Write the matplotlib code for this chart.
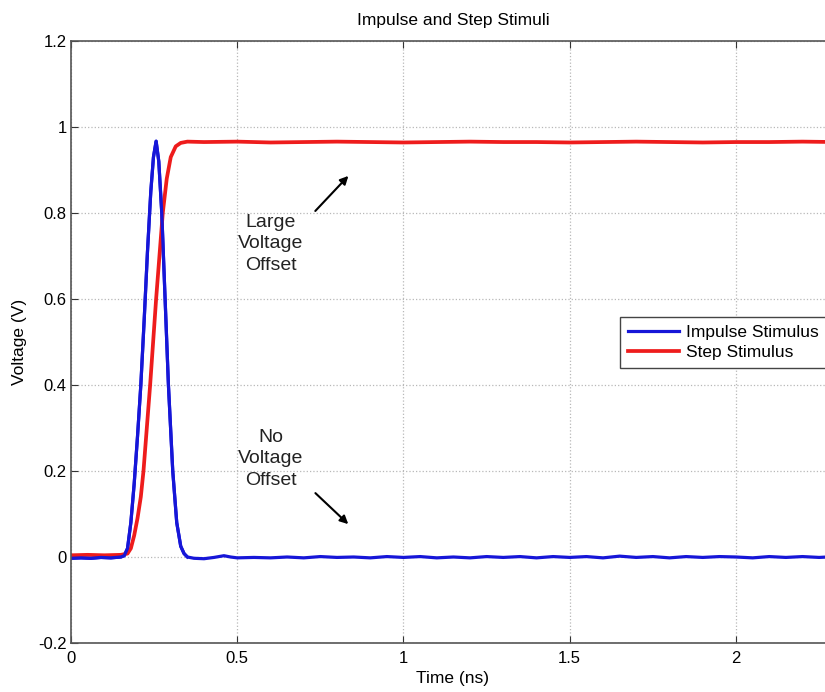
import matplotlib
matplotlib.use('Agg')
import matplotlib.pyplot as plt

# Dados (tempo em ns, tensão em V)
imp_t = [0.00, 0.03, 0.06, 0.09, 0.12, 0.15,
         0.16, 0.17, 0.18, 0.19, 0.20, 0.21, 0.22, 0.23, 0.24,
         0.248, 0.256, 0.264, 0.273, 0.283, 0.293, 0.306, 0.318, 0.33, 0.34, 0.35,
         0.37, 0.40, 0.43, 0.46, 0.48, 0.50,
         0.55, 0.60, 0.65, 0.70, 0.75, 0.80, 0.85, 0.90, 0.95, 1.00,
         1.05, 1.10, 1.15, 1.20, 1.25, 1.30, 1.35, 1.40, 1.45, 1.50,
         1.55, 1.60, 1.65, 1.70, 1.75, 1.80, 1.85, 1.90, 1.95, 2.00,
         2.05, 2.10, 2.15, 2.20, 2.25, 2.30]
imp_v = [-0.003, -0.002, -0.003, -0.001, -0.002, 0.000,
         0.003, 0.02, 0.08, 0.17, 0.28, 0.40, 0.55, 0.71, 0.85,
         0.93, 0.967, 0.92, 0.80, 0.60, 0.40, 0.20, 0.08, 0.025, 0.008, 0.000,
         -0.003, -0.004, -0.001, 0.003, 0.000, -0.002,
         -0.001, -0.002, 0.000, -0.002, 0.001, -0.001, 0.000, -0.002, 0.001, -0.001,
         0.001, -0.002, 0.000, -0.002, 0.001, -0.001, 0.001, -0.002, 0.001, -0.001,
         0.001, -0.002, 0.002, -0.001, 0.001, -0.002, 0.001, -0.001, 0.001, 0.000,
         -0.002, 0.001, -0.001, 0.001, -0.001, 0.001]

step_t = [0.00, 0.05, 0.10, 0.15, 0.17, 0.18, 0.19, 0.20, 0.21,
          0.218, 0.228, 0.238, 0.247, 0.256, 0.266, 0.276, 0.288, 0.30, 0.315, 0.33, 0.35,
          0.40, 0.50, 0.60, 0.70, 0.80, 0.90, 1.00, 1.10, 1.20, 1.30, 1.40,
          1.50, 1.60, 1.70, 1.80, 1.90, 2.00, 2.10, 2.20, 2.30]
step_v = [0.004, 0.005, 0.004, 0.005, 0.008, 0.02, 0.05, 0.09, 0.14,
          0.20, 0.30, 0.40, 0.50, 0.60, 0.70, 0.80, 0.88, 0.93, 0.955, 0.963, 0.966,
          0.965, 0.966, 0.964, 0.965, 0.966, 0.965, 0.964, 0.965, 0.966, 0.965, 0.965,
          0.964, 0.965, 0.966, 0.965, 0.964, 0.965, 0.965, 0.966, 0.965]

x_ticks = [0, 0.5, 1, 1.5, 2]
y_ticks = [-0.2, 0, 0.2, 0.4, 0.6, 0.8, 1, 1.2]
series_labels = ['Impulse Stimulus', 'Step Stimulus']

plt.rcParams['font.family'] = ['Liberation Sans', 'DejaVu Sans']

W, H = 825, 692
fig = plt.figure(figsize=(W / 100, H / 100), dpi=100)

# Eixo vai um pouco além da borda direita (imagem original cortada)
px_per_ns = 332.5
x_max = 2.3
left, top, bottom = 71, 41, 643
ax = fig.add_axes([left / W, (H - bottom) / H,
                   x_max * px_per_ns / W, (bottom - top) / H])

blue = '#1616d8'
red = '#ee1c1c'
ax.plot(imp_t, imp_v, color=blue, lw=2.3, label=series_labels[0])
ax.plot(step_t, step_v, color=red, lw=2.7, label=series_labels[1])
# o azul fica por cima do vermelho no pulso
ax.plot(imp_t[:26], imp_v[:26], color=blue, lw=2.3)

ax.set_xlim(0, x_max)
ax.set_ylim(-0.2, 1.2)
ax.set_xticks(x_ticks)
ax.set_yticks(y_ticks)
ax.set_xticklabels(['%g' % v for v in x_ticks], fontsize=12)
ax.set_yticklabels(['%g' % v for v in y_ticks], fontsize=12)
ax.tick_params(direction='in', length=5, width=0.8, top=True, right=True,
               color='#333333')
ax.tick_params(axis='x', pad=6)
ax.tick_params(axis='y', pad=3)
for sp in ax.spines.values():
    sp.set_color('#555555')
    sp.set_linewidth(1.2)
ax.grid(True, linestyle=':', color='#b8b8b8', linewidth=0.9)

ax.set_xlabel('Time (ns)', fontsize=12.5)
ax.set_ylabel('Voltage (V)', fontsize=12.5)
ax.xaxis.set_label_coords(453 / W, 1 - 679 / H, transform=fig.transFigure)
ax.yaxis.set_label_coords(20 / W, 1 - 342 / H, transform=fig.transFigure)
ax.xaxis.label.set_va('center')
ax.yaxis.label.set_va('center')
fig.text(453 / W, 1 - 21 / H, 'Impulse and Step Stimuli',
         fontsize=12.5, ha='center', va='center')

# Anotações
ax.text(0.6, 0.728, 'Large\nVoltage\nOffset', fontsize=14, ha='center',
        va='center', linespacing=1.32, color='#222222')
ax.text(0.6, 0.228, 'No\nVoltage\nOffset', fontsize=14, ha='center',
        va='center', linespacing=1.32, color='#222222')
ax.annotate('', xy=(0.84, 0.891), xytext=(0.729, 0.80),
            arrowprops=dict(arrowstyle='-|>', color='black', lw=1.5, mutation_scale=12))
ax.annotate('', xy=(0.84, 0.072), xytext=(0.729, 0.153),
            arrowprops=dict(arrowstyle='-|>', color='black', lw=1.5, mutation_scale=12))

leg = ax.legend(loc='upper left', bbox_to_anchor=((620.5 - left) / px_per_ns, (556 - 316) / 430),
                bbox_transform=ax.transData, fontsize=12.5, frameon=True,
                fancybox=False, framealpha=1, edgecolor='#444444',
                handlelength=2.9, borderaxespad=0, borderpad=0.45,
                labelspacing=0.3, handletextpad=0.4)
leg.get_frame().set_linewidth(1.0)

plt.savefig('out.png', dpi=100)
plt.close()
